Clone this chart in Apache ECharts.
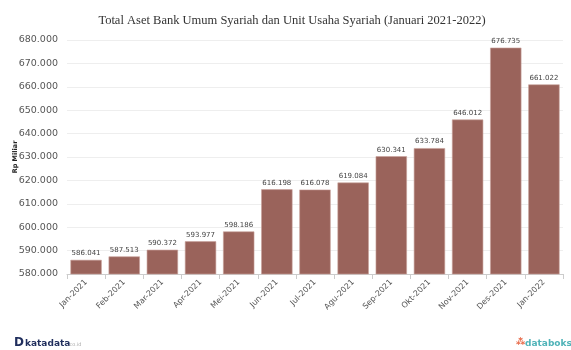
<!DOCTYPE html>
<html><head><meta charset="utf-8">
<script src="https://cdn.jsdelivr.net/npm/echarts@6/dist/echarts.min.js"></script>
<style>html,body{margin:0;padding:0;background:#fff}#c{width:571px;height:350px}</style>
</head><body><div id="c"></div>
<script>
const categories = ["Jan-2021","Feb-2021","Mar-2021","Apr-2021","Mei-2021","Jun-2021","Jul-2021","Agu-2021","Sep-2021","Okt-2021","Nov-2021","Des-2021","Jan-2022"];
const values = [586.041,587.513,590.372,593.977,598.186,616.198,616.078,619.084,630.341,633.784,646.012,676.735,661.022];
const yTicks = [580,590,600,610,620,630,640,650,660,670,680];
const fmt = v => v.toFixed(3);
const chart = echarts.init(document.getElementById('c'), null, {renderer:'canvas'});
chart.setOption({
  animation:false,
  title:{text:'Total Aset Bank Umum Syariah dan Unit Usaha Syariah (Januari 2021-2022)',left:287,textAlign:'center',top:9,
    textStyle:{fontFamily:'Liberation Serif',fontSize:12.5,fontWeight:'normal',color:'#333'}},
  grid:{left:67,right:8,top:40,bottom:76,containLabel:false,outerBoundsMode:'none'},
  xAxis:{type:'category',data:categories,
    axisLine:{lineStyle:{color:'#ccc'}},axisTick:{show:true,alignWithLabel:false,lineStyle:{color:'#ccc'}},
    axisLabel:{rotate:45,interval:0,fontFamily:'DejaVu Sans',fontSize:8,color:'#555',margin:7}},
  yAxis:{type:'value',min:yTicks[0],max:yTicks[yTicks.length-1],interval:10,
    name:'Rp Miliar',nameLocation:'middle',nameGap:48,nameRotate:90,nameMoveOverlap:false,
    nameTextStyle:{fontFamily:'DejaVu Sans',fontSize:6.5,fontWeight:'bold',color:'#222'},
    axisLine:{show:false},axisTick:{show:false},
    splitLine:{lineStyle:{color:'#eee'}},
    axisLabel:{formatter:fmt,fontFamily:'DejaVu Sans',fontSize:9.5,color:'#555',margin:9}},
  series:[{type:'bar',data:values,barCategoryGap:'18%',
    itemStyle:{color:'#9a635b',borderColor:'#c9a39c',borderWidth:0.6},
    label:{show:true,position:'top',formatter:p=>fmt(p.value),fontFamily:'DejaVu Sans',fontSize:7,color:'#444',distance:3}}],
  graphic:[
    {type:'text',left:14,top:337,style:{text:'D',font:'bold 12px DejaVu Sans',fill:'#1f2d5c'}},
    {type:'text',left:25,top:339,style:{text:'katadata',font:'bold 9px DejaVu Sans',fill:'#1f2d5c'}},
    {type:'text',left:68,top:342,style:{text:'.co.id',font:'5px DejaVu Sans',fill:'#aaa'}},
    {type:'text',left:525,top:339,style:{text:'databoks',font:'bold 9px DejaVu Sans',fill:'#4fb3b8'}},
    {type:'text',left:516,top:338,style:{text:'⁂',font:'bold 9px DejaVu Sans',fill:'#e86b4a'}}
  ]
});
</script></body></html>
